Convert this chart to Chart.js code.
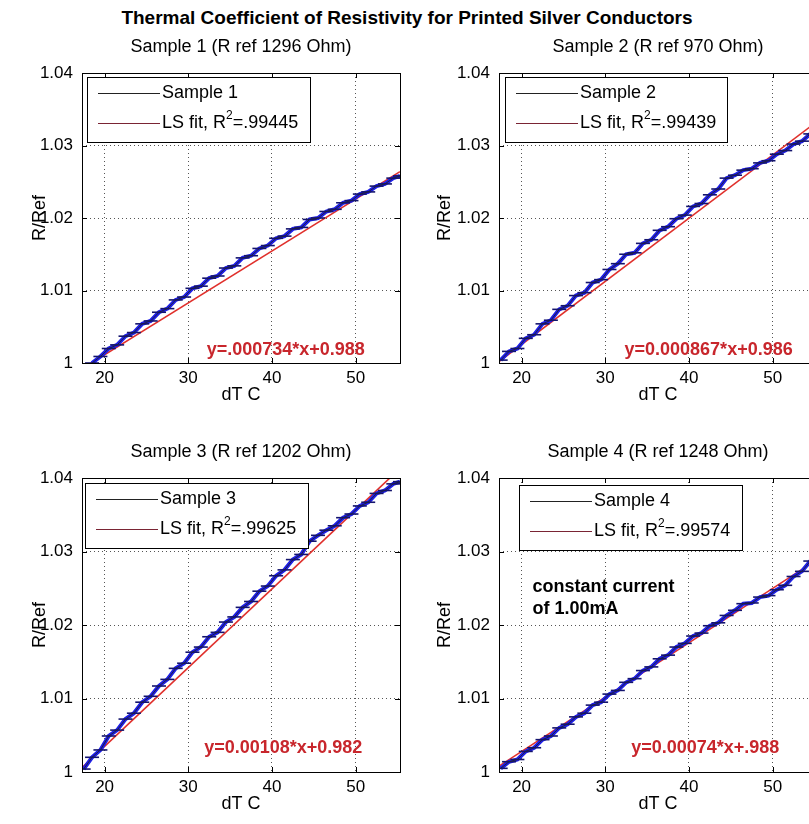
<!DOCTYPE html>
<html>
<head>
<meta charset="utf-8">
<script src="https://cdn.jsdelivr.net/npm/chart.js@4.4.1/dist/chart.umd.min.js"></script>
<style>
html, body { margin: 0; padding: 0; background: #fff; overflow: hidden; width: 809px; height: 824px; }
#title { position: absolute; left: 0; top: 7px; width: 814px; text-align: center;
  font: bold 19px "Liberation Sans", Arial, sans-serif; line-height: 22px; color: #000; }
.panel { position: absolute; }
</style>
</head>
<body>
<div id="title">Thermal Coefficient of Resistivity for Printed Silver Conductors</div>
<div class="panel" style="left:0;top:30px"><canvas id="c1" width="410" height="383"></canvas></div>
<div class="panel" style="left:417px;top:30px"><canvas id="c2" width="410" height="383"></canvas></div>
<div class="panel" style="left:0;top:435px"><canvas id="c3" width="410" height="387"></canvas></div>
<div class="panel" style="left:417px;top:435px"><canvas id="c4" width="410" height="387"></canvas></div>
<script>
// ---- data ----
const panelTitles = ['Sample 1 (R ref 1296 Ohm)', 'Sample 2 (R ref 970 Ohm)', 'Sample 3 (R ref 1202 Ohm)', 'Sample 4 (R ref 1248 Ohm)'];
const sampleNames = ['Sample 1', 'Sample 2', 'Sample 3', 'Sample 4'];
const r2Values = ['.99445', '.99439', '.99625', '.99574'];
const fitLabels = ['y=.000734*x+0.988', 'y=0.000867*x+0.986', 'y=0.00108*x+0.982', 'y=0.00074*x+.988'];
const xTicks = [20, 30, 40, 50];
const yTicks = [1, 1.01, 1.02, 1.03, 1.04];

const temps1 = [18.5, 19.5, 20.5, 21.5, 22.5, 23.5, 24.5, 25.5, 26.5, 27.5, 28.5, 29.5, 30.5, 31.5, 32.5, 33.5, 34.5, 35.5, 36.5,
  37.5, 38.5, 39.5, 40.5, 41.5, 42.5, 43.5, 44.5, 45.5, 46.5, 47.5, 48.5, 49.5, 50.5, 51.5, 52.5, 53.5, 54.5, 55.3];
const temps234 = [17.5, 18.5, 19.5, 20.5, 21.5, 22.5, 23.5, 24.5, 25.5, 26.5, 27.5, 28.5, 29.5, 30.5, 31.5, 32.5, 33.5, 34.5, 35.5, 36.5,
  37.5, 38.5, 39.5, 40.5, 41.5, 42.5, 43.5, 44.5, 45.5, 46.5, 47.5, 48.5, 49.5, 50.5, 51.5, 52.5, 53.5, 54.5, 55.3];

const ratio1 = [1.0000, 1.0009, 1.0020, 1.0025, 1.0037, 1.0042, 1.0054, 1.0058, 1.0070, 1.0075, 1.0087, 1.0091, 1.0103, 1.0106,
  1.0117, 1.0120, 1.0131, 1.0134, 1.0145, 1.0148, 1.0158, 1.0162, 1.0172, 1.0175, 1.0185, 1.0187, 1.0198, 1.0200, 1.0209, 1.0212,
  1.0221, 1.0224, 1.0233, 1.0236, 1.0244, 1.0247, 1.0255, 1.0258];
const ratio2 = [1.0004, 1.0016, 1.0020, 1.0034, 1.0039, 1.0054, 1.0059, 1.0074, 1.0079, 1.0093, 1.0097, 1.0111, 1.0115, 1.0129,
  1.0137, 1.0150, 1.0152, 1.0165, 1.0170, 1.0183, 1.0188, 1.0199, 1.0204, 1.0216, 1.0220, 1.0232, 1.0240, 1.0255, 1.0259, 1.0266,
  1.0268, 1.0276, 1.0279, 1.0288, 1.0293, 1.0302, 1.0306, 1.0316, 1.0322];
const ratio3 = [1.0004, 1.0020, 1.0030, 1.0049, 1.0057, 1.0072, 1.0080, 1.0095, 1.0103, 1.0117, 1.0126, 1.0141, 1.0148, 1.0163,
  1.0170, 1.0184, 1.0190, 1.0204, 1.0211, 1.0224, 1.0232, 1.0246, 1.0253, 1.0267, 1.0275, 1.0289, 1.0296, 1.0314, 1.0322, 1.0329,
  1.0335, 1.0346, 1.0351, 1.0362, 1.0367, 1.0379, 1.0383, 1.0392, 1.0395];
const ratio4 = [1.0005, 1.0014, 1.0017, 1.0028, 1.0033, 1.0044, 1.0049, 1.0060, 1.0065, 1.0075, 1.0080, 1.0091, 1.0095, 1.0106,
  1.0111, 1.0122, 1.0127, 1.0138, 1.0143, 1.0154, 1.0159, 1.0170, 1.0175, 1.0185, 1.0189, 1.0199, 1.0203, 1.0213, 1.0220, 1.0229,
  1.0230, 1.0238, 1.0240, 1.0248, 1.0254, 1.0266, 1.0273, 1.0287, 1.0292];

// least squares lines, end points
const fitT = [17.3, 55.3];
const fit1 = [0.9992, 1.0264];
const fit2 = [1.0002, 1.0333];
const fit3 = [1.0006, 1.0413];
const fit4 = [1.0008, 1.0289];

const noteLines = ['constant current', 'of 1.00mA'];

const FONT = '"Liberation Sans", Arial, sans-serif';
Chart.defaults.font.family = FONT;
Chart.defaults.color = '#000';

function pts(xs, ys) {
  return xs.map((x, i) => ({ x: x, y: ys[i] }));
}

// draws the matlab style box, inward ticks, legend and text labels
const matlabAxes = {
  id: 'matlabAxes',
  afterDatasetsDraw(chart, args, opts) {
    const { ctx, chartArea: a, scales: { x, y } } = chart;
    ctx.save();
    ctx.strokeStyle = '#000';
    ctx.lineWidth = 1;
    ctx.strokeRect(a.left + 0.5, a.top + 0.5, a.width, a.height);
    ctx.beginPath();
    xTicks.forEach(v => {
      const px = Math.round(x.getPixelForValue(v)) + 0.5;
      ctx.moveTo(px, a.bottom); ctx.lineTo(px, a.bottom - 5);
      ctx.moveTo(px, a.top); ctx.lineTo(px, a.top + 5);
    });
    yTicks.forEach(v => {
      const py = Math.round(y.getPixelForValue(v)) + 0.5;
      ctx.moveTo(a.left, py); ctx.lineTo(a.left + 5, py);
      ctx.moveTo(a.right, py); ctx.lineTo(a.right - 5, py);
    });
    ctx.stroke();

    // equation
    ctx.font = 'bold 18px ' + FONT;
    ctx.fillStyle = '#c8262c';
    ctx.textBaseline = 'middle';
    ctx.textAlign = 'left';
    ctx.fillText(opts.eq.text, x.getPixelForValue(opts.eq.x), y.getPixelForValue(opts.eq.y));

    if (opts.note) {
      ctx.fillStyle = '#000';
      const nx = x.getPixelForValue(opts.note.x), ny = y.getPixelForValue(opts.note.y);
      opts.note.lines.forEach((t, i) => ctx.fillText(t, nx, ny + i * 22));
    }

    // legend box
    const L = opts.legend;
    const lx = a.left + L.dx, ly = a.top + L.dy;
    ctx.fillStyle = '#fff';
    ctx.fillRect(lx, ly, L.w, L.h);
    ctx.strokeStyle = '#000';
    ctx.strokeRect(lx + 0.5, ly + 0.5, L.w, L.h);
    const rows = [ly + 16, ly + 46];
    ctx.lineWidth = 1.2;
    ctx.strokeStyle = '#222';
    ctx.beginPath(); ctx.moveTo(lx + 11, rows[0] + 0.5); ctx.lineTo(lx + 73, rows[0] + 0.5); ctx.stroke();
    ctx.strokeStyle = '#7a2434';
    ctx.beginPath(); ctx.moveTo(lx + 11, rows[1] + 0.5); ctx.lineTo(lx + 73, rows[1] + 0.5); ctx.stroke();
    ctx.fillStyle = '#000';
    ctx.font = '18px ' + FONT;
    ctx.fillText(L.name, lx + 75, rows[0]);
    const head = 'LS fit, R';
    ctx.fillText(head, lx + 75, rows[1]);
    let cx = lx + 75 + ctx.measureText(head).width;
    ctx.font = '12px ' + FONT;
    ctx.fillText('2', cx, rows[1] - 7);
    cx += ctx.measureText('2').width;
    ctx.font = '18px ' + FONT;
    ctx.fillText('=' + L.r2, cx, rows[1]);
    ctx.restore();
  }
};

function makePanel(id, p) {
  new Chart(document.getElementById(id), {
    type: 'scatter',
    data: {
      datasets: [
        { data: pts(p.t, p.r), showLine: true, borderColor: '#202040', borderWidth: 1, pointRadius: 0 },
        { data: pts(p.t, p.r), showLine: true, borderColor: '#1e1ee8', borderWidth: 4,
          pointStyle: 'line', pointRadius: 7, pointBorderColor: '#14146e', pointBorderWidth: 1.6 },
        { data: pts(fitT, p.fit), showLine: true, borderColor: '#e0302c', borderWidth: 1.6, pointRadius: 0 }
      ]
    },
    plugins: [matlabAxes],
    options: {
      responsive: false,
      animation: false,
      events: [],
      layout: { padding: { right: 10 } },
      plugins: {
        legend: { display: false },
        tooltip: { enabled: false },
        title: {
          display: true, text: p.title, fullSize: false, color: '#000',
          font: { size: 18, weight: 'normal', lineHeight: '20px' },
          padding: { top: 7, bottom: 16 }
        },
        matlabAxes: { eq: p.eq, note: p.note, legend: p.legend }
      },
      scales: {
        x: {
          type: 'linear', min: 17.3, max: 55.3,
          afterBuildTicks: s => { s.ticks = xTicks.map(v => ({ value: v })); },
          afterFit: s => { s.height = 50; },
          grid: { color: '#555', drawTicks: false },
          border: { display: false, dash: [1, 3] },
          ticks: { font: { size: 17, lineHeight: '20px' }, padding: 5 },
          title: { display: true, text: 'dT C', font: { size: 18, lineHeight: '20px' }, padding: { top: 0, bottom: 8 } }
        },
        y: {
          type: 'linear', min: 1, max: 1.04,
          afterBuildTicks: s => { s.ticks = yTicks.map(v => ({ value: v })); },
          afterFit: s => { s.width = 82; },
          grid: { color: '#555', drawTicks: false },
          border: { display: false, dash: [1, 3] },
          ticks: { font: { size: 17, lineHeight: '20px' }, padding: 9, callback: v => String(+v.toFixed(2)) },
          title: { display: true, text: 'R/Ref', font: { size: 18, lineHeight: '20px' }, padding: { top: p.yPad, bottom: 0 } }
        }
      }
    }
  });
}

makePanel('c1', { t: temps1, r: ratio1, fit: fit1, title: panelTitles[0], yPad: 30,
  eq: { text: fitLabels[0], x: 32.2, y: 1.0018 },
  legend: { name: sampleNames[0], r2: r2Values[0], dx: 5, dy: 4, w: 223, h: 65 } });
makePanel('c2', { t: temps234, r: ratio2, fit: fit2, title: panelTitles[1], yPad: 18,
  eq: { text: fitLabels[1], x: 32.3, y: 1.0018 },
  legend: { name: sampleNames[1], r2: r2Values[1], dx: 6, dy: 4, w: 222, h: 65 } });
makePanel('c3', { t: temps234, r: ratio3, fit: fit3, title: panelTitles[2], yPad: 30,
  eq: { text: fitLabels[2], x: 31.9, y: 1.0033 },
  legend: { name: sampleNames[2], r2: r2Values[2], dx: 3, dy: 5, w: 223, h: 65 } });
makePanel('c4', { t: temps234, r: ratio4, fit: fit4, title: panelTitles[3], yPad: 18,
  eq: { text: fitLabels[3], x: 33.1, y: 1.0033 },
  note: { lines: noteLines, x: 21.3, y: 1.0251 },
  legend: { name: sampleNames[3], r2: r2Values[3], dx: 20, dy: 7, w: 223, h: 65 } });
</script>
</body>
</html>
